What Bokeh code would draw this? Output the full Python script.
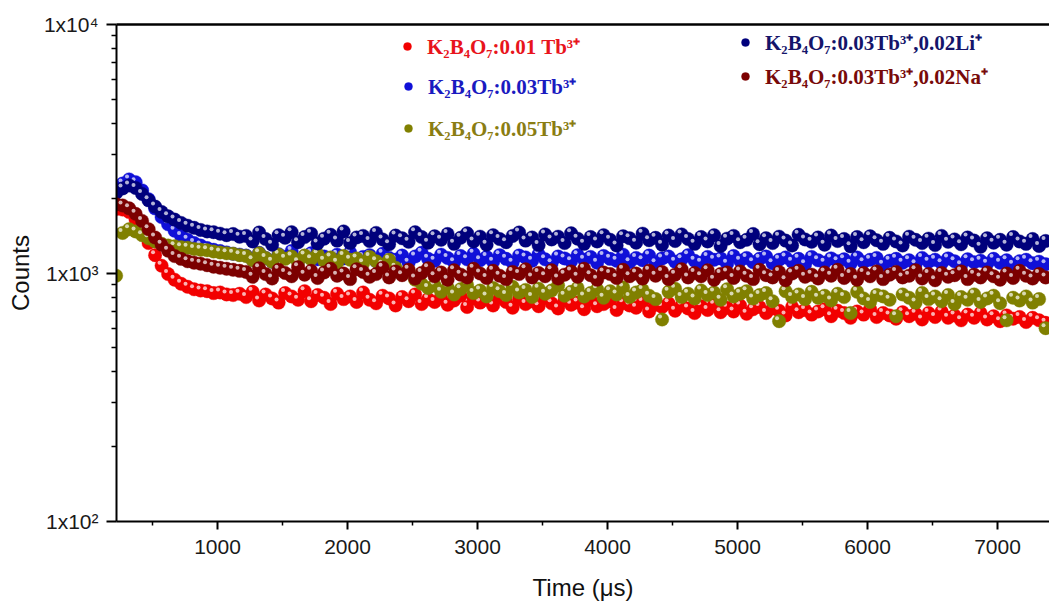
import numpy as np
from bokeh.plotting import figure
from bokeh.models import (ColumnDataSource, Range1d, FixedTicker, LinearAxis,
                          Legend, LegendItem)
from bokeh.embed import file_html
from bokeh.resources import INLINE

# ---- decay data (counts vs. time in microseconds), 50 us sampling ----
TIME_US = np.arange(220, 7400, 50)

COUNTS_TB001 = [
    1810, 1800, 1760, 1640, 1480, 1320, 1180, 1070, 990, 940,
    905, 880, 860, 850, 845, 830, 835, 820, 815, 825,
    800, 840, 775, 820, 790, 760, 830, 805, 780, 845,
    770, 815, 795, 750, 825, 785, 805, 765, 835, 780,
    755, 810, 790, 740, 800, 770, 820, 750, 785, 765,
    800, 745, 775, 810, 730, 790, 760, 780, 740, 795,
    765, 725, 785, 750, 770, 735, 795, 755, 720, 775,
    745, 760, 715, 780, 735, 750, 770, 710, 755, 740,
    725, 765, 700, 745, 730, 755, 705, 740, 720, 690,
    735, 710, 745, 695, 725, 700, 740, 685, 715, 730,
    690, 720, 705, 675, 730, 695, 710, 680, 700, 715,
    670, 705, 690, 660, 700, 680, 715, 665, 690, 675,
    655, 695, 670, 685, 650, 690, 665, 700, 660, 675,
    645, 680, 660, 690, 650, 670, 640, 675, 655, 665,
    635, 660, 645, 630,
]

COUNTS_TB003 = [
    2150, 2290, 2380, 2320, 2150, 1980, 1820, 1680, 1570, 1480,
    1410, 1360, 1320, 1290, 1260, 1240, 1225, 1210, 1195, 1185,
    1175, 1130, 1205, 1150, 1110, 1190, 1160, 1225, 1120, 1170,
    1200, 1135, 1165, 1105, 1185, 1145, 1210, 1125, 1160, 1180,
    1115, 1195, 1150, 1130, 1175, 1100, 1165, 1205, 1140, 1120,
    1185, 1150, 1105, 1170, 1135, 1195, 1125, 1160, 1110, 1180,
    1140, 1100, 1175, 1155, 1120, 1190, 1135, 1095, 1165, 1145,
    1115, 1180, 1130, 1160, 1100, 1170, 1140, 1120, 1185, 1105,
    1150, 1125, 1175, 1095, 1145, 1165, 1110, 1135, 1180, 1120,
    1100, 1160, 1130, 1145, 1090, 1170, 1120, 1150, 1105, 1140,
    1165, 1095, 1130, 1155, 1110, 1140, 1085, 1160, 1125, 1100,
    1145, 1115, 1135, 1090, 1155, 1105, 1130, 1150, 1080, 1120,
    1140, 1100, 1125, 1085, 1150, 1110, 1130, 1095, 1145, 1115,
    1075, 1135, 1105, 1120, 1090, 1140, 1100, 1125, 1080, 1115,
    1130, 1095, 1110, 1085,
]

COUNTS_TB005 = [
    975, 1450, 1500, 1470, 1420, 1380, 1340, 1310, 1290, 1280,
    1270, 1265, 1250, 1240, 1235, 1220, 1210, 1200, 1195, 1180,
    1170, 1125, 1200, 1150, 1110, 1185, 1140, 1165, 1105, 1175,
    1135, 1190, 1120, 1155, 1100, 1170, 1130, 1145, 1095, 1160,
    1115, 1080, 1130, 1050, 990, 1020, 940, 905, 870, 890,
    840, 875, 820, 860, 895, 830, 850, 805, 870, 845,
    815, 880, 835, 855, 800, 865, 825, 850, 890, 810,
    840, 870, 805, 830, 860, 795, 845, 820, 875, 800,
    835, 855, 810, 785, 650, 840, 865, 800, 825, 790,
    850, 815, 835, 780, 860, 805, 825, 845, 790, 815,
    830, 770, 640, 845, 800, 820, 785, 840, 795, 810,
    775, 825, 800, 690, 840, 790, 765, 815, 805, 780,
    670, 820, 795, 760, 830, 785, 805, 770, 815, 750,
    800, 780, 820, 765, 790, 810, 755, 645, 795, 775,
    805, 760, 785, 600,
]

COUNTS_TB003_LI = [
    2100, 2190, 2250, 2200, 2080, 1960, 1850, 1760, 1690, 1640,
    1590, 1550, 1520, 1490, 1470, 1460, 1440, 1420, 1435, 1400,
    1410, 1340, 1455, 1370, 1300, 1420, 1385, 1460, 1330, 1395,
    1440, 1315, 1375, 1425, 1350, 1470, 1320, 1390, 1410, 1345,
    1450, 1365, 1305, 1415, 1380, 1335, 1460, 1395, 1325, 1405,
    1360, 1435, 1310, 1385, 1445, 1340, 1400, 1300, 1420, 1370,
    1330, 1410, 1455, 1350, 1390, 1295, 1430, 1365, 1400, 1320,
    1445, 1375, 1310, 1395, 1340, 1420, 1360, 1290, 1405, 1380,
    1325, 1440, 1355, 1385, 1300, 1415, 1345, 1430, 1370, 1310,
    1395, 1340, 1420, 1285, 1375, 1410, 1330, 1360, 1435, 1305,
    1380, 1320, 1400, 1350, 1290, 1425, 1365, 1335, 1390, 1300,
    1415, 1345, 1370, 1280, 1395, 1330, 1405, 1355, 1310, 1385,
    1340, 1290, 1400, 1360, 1320, 1375, 1295, 1410, 1335, 1365,
    1305, 1390, 1350, 1275, 1380, 1325, 1360, 1300, 1395, 1340,
    1310, 1370, 1285, 1345,
]

COUNTS_TB003_NA = [
    1890, 1870, 1820, 1730, 1620, 1500, 1390, 1300, 1230, 1170,
    1140, 1115, 1100, 1090, 1075, 1060, 1050, 1040, 1030, 1020,
    1010, 965, 1045, 990, 950, 1030, 1000, 970, 1055, 985,
    1020, 955, 1005, 1040, 975, 995, 945, 1035, 1010, 965,
    990, 1050, 960, 1015, 980, 1030, 950, 1000, 1045, 970,
    1005, 940, 1025, 985, 960, 1040, 995, 955, 1020, 975,
    945, 1010, 990, 1035, 960, 1000, 970, 1025, 950, 985,
    1015, 965, 1040, 980, 940, 1005, 990, 955, 1030, 970,
    995, 950, 1020, 975, 1010, 945, 985, 1035, 960, 1000,
    970, 1025, 940, 990, 1005, 955, 1015, 975, 945, 1030,
    980, 960, 1010, 935, 995, 1020, 965, 985, 950, 1005,
    975, 1030, 955, 990, 940, 1000, 970, 1015, 945, 985,
    1010, 960, 975, 1025, 950, 990, 935, 1000, 965, 980,
    1015, 945, 985, 960, 1005, 970, 940, 995, 955, 1020,
    975, 950, 990, 960,
]

SERIES_LABELS = [
    "K₂B₄O₇:0.01 Tb³⁺",
    "K₂B₄O₇:0.03Tb³⁺",
    "K₂B₄O₇:0.05Tb³⁺",
    "K₂B₄O₇:0.03Tb³⁺,0.02Li⁺",
    "K₂B₄O₇:0.03Tb³⁺,0.02Na⁺",
]
SERIES_COUNTS = [COUNTS_TB001, COUNTS_TB003, COUNTS_TB005,
                 COUNTS_TB003_LI, COUNTS_TB003_NA]
MARKER_COLORS = ["#f20000", "#1010d8", "#808000", "#00007c", "#7c0000"]
LABEL_COLORS = ["#e8141c", "#1a1ac0", "#8a7d12", "#14146a", "#780a0a"]

X_TICKS = [1000, 2000, 3000, 4000, 5000, 6000, 7000]
X_MINOR = [500, 1500, 2500, 3500, 4500, 5500, 6500]
Y_TICKS = [100, 1000, 10000]
Y_TICK_LABELS = ["1x10²", "1x10³", "1x10⁴"]
Y_MINOR = [m * d for d in (100, 1000) for m in range(2, 10)]

# legend anchor (frame px) for each series
LEGEND_POS = [(281, 461), (282, 421), (282, 379), (619, 465), (619, 431)]

SANS = "Liberation Sans"
SERIF = "Liberation Serif"

p = figure(width=1049, height=605, y_axis_type="log",
           x_range=Range1d(223, 7400), y_range=Range1d(100, 10000),
           output_backend="svg", toolbar_location=None,
           min_border_left=116, min_border_right=0,
           min_border_top=24, min_border_bottom=84)
p.outline_line_color = None
p.xgrid.visible = False
p.ygrid.visible = False
p.background_fill_color = "white"
p.border_fill_color = "white"

# glossy spheres: a coloured body plus a small specular spot up-left
spot_dx = -16.0                 # microseconds, ~2 px to the left
spot_fy = 10 ** (3.0 / 248.5)   # ~3 px upward on the log axis

body_renderers = []
for counts, color in zip(SERIES_COUNTS, MARKER_COLORS):
    y = np.array(counts, dtype=float)
    t = TIME_US[:len(y)]
    src = ColumnDataSource(dict(t=t, c=y, ht=t + spot_dx, hc=y * spot_fy))
    r = p.scatter("t", "c", source=src, size=13.5, fill_color=color,
                  line_color=color, line_alpha=0.6, line_width=0.6)
    p.scatter("ht", "hc", source=src, size=4, fill_color="white",
              fill_alpha=0.7, line_color=None)
    body_renderers.append(r)

# axes
for ax in (p.xaxis[0], p.yaxis[0]):
    ax.axis_line_width = 2
    ax.axis_line_color = "black"
    ax.major_tick_line_width = 2
    ax.minor_tick_line_width = 1.5
    ax.major_tick_in = 0
    ax.minor_tick_in = 0
    ax.major_label_text_font = SANS
    ax.major_label_text_font_size = "21px"
    ax.major_label_text_color = "#1a1a1a"
    ax.axis_label_text_font = SANS
    ax.axis_label_text_font_size = "24px"
    ax.axis_label_text_font_style = "normal"
    ax.axis_label_text_color = "#111111"

p.xaxis.ticker = FixedTicker(ticks=X_TICKS, minor_ticks=X_MINOR)
p.xaxis.major_tick_out = 8
p.xaxis.minor_tick_out = 4
p.xaxis.major_label_standoff = 10
p.xaxis.axis_label = "Time (μs)"
p.xaxis.axis_label_standoff = 17

p.yaxis.ticker = FixedTicker(ticks=Y_TICKS, minor_ticks=Y_MINOR)
p.yaxis.major_label_overrides = dict(zip(Y_TICKS, Y_TICK_LABELS))
p.yaxis.major_tick_out = 10
p.yaxis.minor_tick_out = 5
p.yaxis.major_label_standoff = 8
p.yaxis.axis_label = "Counts"
p.yaxis.axis_label_standoff = 7

# frame line along the top
top = LinearAxis(ticker=FixedTicker(ticks=[]), axis_line_width=2.5,
                 major_tick_line_color=None, minor_tick_line_color=None,
                 major_label_text_font_size="0px")
p.add_layout(top, "above")

# one legend per series so each label keeps its own colour
for r, label, lcolor, (lx, ly) in zip(body_renderers, SERIES_LABELS,
                                      LABEL_COLORS, LEGEND_POS):
    leg = Legend(items=[LegendItem(label=label, renderers=[r])],
                 location=(lx, ly), padding=0, margin=0, spacing=0,
                 glyph_width=20, glyph_height=20, label_standoff=10,
                 label_text_font=SERIF, label_text_font_style="bold",
                 label_text_font_size="21px", label_text_color=lcolor,
                 border_line_color=None, background_fill_alpha=0)
    p.add_layout(leg)

open("out.html", "w").write(file_html(p, INLINE))
